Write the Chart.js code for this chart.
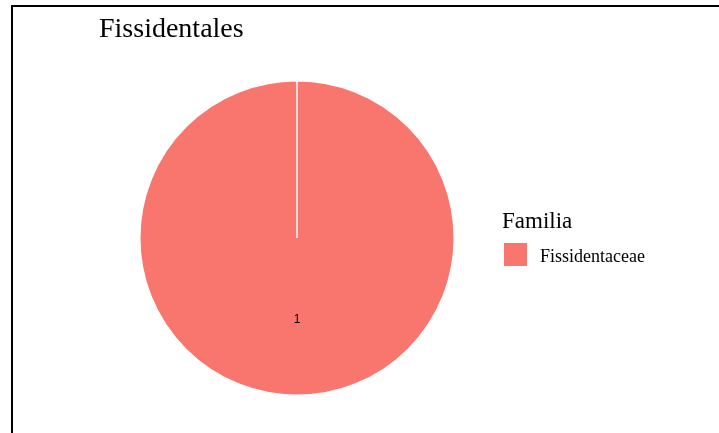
<!DOCTYPE html>
<html>
<head>
<meta charset="utf-8">
<script src="https://cdn.jsdelivr.net/npm/chart.js@4"></script>
<style>
  body { margin: 0; background: #fff; }
  #wrap { position: relative; width: 719px; height: 433px; }
  #frame { position: absolute; left: 11px; top: 5px; right: 0; bottom: 0; border-left: 2px solid #000; border-top: 2px solid #000; pointer-events: none; }
</style>
</head>
<body>
<div id="wrap">
  <canvas id="pie_chart" width="719" height="433"></canvas>
  <div id="frame"></div>
</div>
<script>
// Data for the chart
let chart_title = 'Fissidentales'
let legend_title = 'Familia'
let familias = ['Fissidentaceae']
let conteos = [1]
let colores = ['#F8766D']

// Plugin that draws the title, the legend box and the count labels
let extras = {
  id: 'extras',
  afterDraw(chart) {
    let ctx = chart.ctx
    ctx.save()
    ctx.fillStyle = '#000'
    ctx.textBaseline = 'alphabetic'
    ctx.textAlign = 'left'
    ctx.font = '28px "Liberation Serif", "Times New Roman", serif'
    ctx.fillText(chart_title, 99, 37)

    ctx.font = '23px "Liberation Serif", "Times New Roman", serif'
    ctx.fillText(legend_title, 502, 228)
    familias.forEach((f, i) => {
      ctx.fillStyle = colores[i]
      ctx.fillRect(504, 243 + i * 27, 23, 23)
      ctx.fillStyle = '#000'
      ctx.font = '18px "Liberation Serif", "Times New Roman", serif'
      ctx.fillText(f, 540, 262 + i * 27)
    })

    // count labels in the middle of each slice
    let meta = chart.getDatasetMeta(0)
    ctx.font = '12px "Liberation Sans", Arial, sans-serif'
    ctx.textAlign = 'center'
    ctx.textBaseline = 'middle'
    meta.data.forEach((arc, i) => {
      let p = arc.getProps(['x', 'y', 'startAngle', 'endAngle', 'outerRadius'], true)
      let mid = (p.startAngle + p.endAngle) / 2
      let r = p.outerRadius * 0.52
      ctx.fillText(String(conteos[i]), p.x + Math.cos(mid) * r, p.y + Math.sin(mid) * r)
    })
    ctx.restore()
  }
}

let ctx = document.getElementById('pie_chart')
new Chart(ctx, {
  type: 'pie',
  data: {
    labels: familias,
    datasets: [{
      data: conteos,
      backgroundColor: colores,
      borderColor: '#fff',
      borderWidth: 1.5
    }]
  },
  options: {
    responsive: false,
    animation: false,
    layout: {
      padding: { left: 139, right: 264, top: 80, bottom: 37 }
    },
    plugins: {
      legend: { display: false },
      title: { display: false },
      tooltip: { enabled: false }
    }
  },
  plugins: [extras]
})
</script>
</body>
</html>
